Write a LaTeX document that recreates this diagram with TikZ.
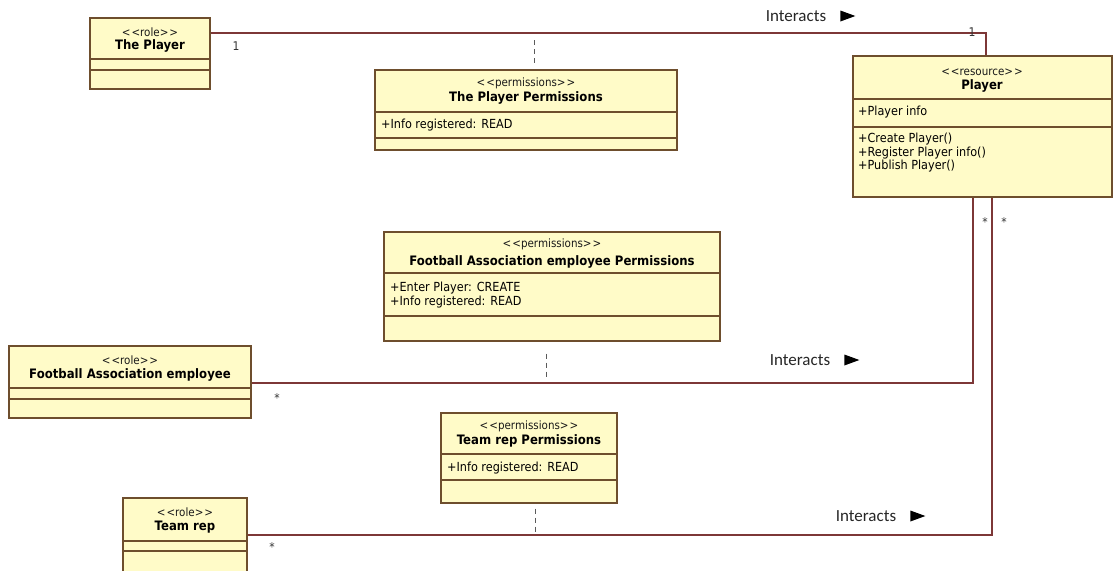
\documentclass[tikz,border=0pt]{standalone}
\usepackage{fontspec}
\setmainfont{DejaVu Sans}[FakeStretch=0.9]
\newfontfamily\lblfont{Carlito}
\usetikzlibrary{fit}

\definecolor{boxfill}{RGB}{255,251,200}
\definecolor{boxline}{RGB}{110,78,45}
\definecolor{assoccol}{RGB}{125,55,55}
\definecolor{dashcol}{RGB}{90,90,90}

\newcommand\stype[1]{<\kern1pt<#1>\kern1pt>}

\begin{document}
\begin{tikzpicture}[x=1pt,y=-1pt,
  classbox/.style={draw=boxline, fill=boxfill, line width=1.2pt, inner sep=0pt, rectangle},
  compart/.style={draw=boxline, line width=1.2pt},
  stereo/.style={font=\fontsize{11.5}{13}\selectfont, inner sep=0pt, text=black!90},
  cname/.style={font=\fontsize{13}{15}\selectfont\bfseries, inner sep=0pt},
  member/.style={font=\fontsize{12.5}{13.5}\selectfont, inner sep=0pt, anchor=west, align=left},
  assoc/.style={draw=assoccol, line width=1.2pt},
  permlink/.style={draw=dashcol, line width=1pt, dash pattern=on 5pt off 4pt},
  mult/.style={font=\fontsize{12}{14}\selectfont, inner sep=0pt, text=black!80},
  rolelbl/.style={font=\lblfont\fontsize{17}{19}\selectfont, inner sep=0pt, text=black!85},
  navtip/.style={fill=black}]

\useasboundingbox (0,0) rectangle (1118,570);

% ---------- classes ----------
% The Player (role)
\node (rp) [classbox, fit={(90,18) (210,89)}] {};
\draw[compart] (rp.west |- 0,59) -- (rp.east |- 0,59);
\draw[compart] (rp.west |- 0,70) -- (rp.east |- 0,70);
\node (rp-s) [stereo] at (150,32) {\stype{role}};
\node (rp-n) [cname] at (150,46) {The Player};

% The Player Permissions
\node (pp) [classbox, fit={(375,70) (677,150)}] {};
\draw[compart] (pp.west |- 0,112) -- (pp.east |- 0,112);
\draw[compart] (pp.west |- 0,138) -- (pp.east |- 0,138);
\node (pp-s) [stereo] at (526,83) {\stype{permissions}};
\node (pp-n) [cname] at (526,98) {The Player Permissions};
\node (pp-a) [member] at (381,125) {+Info registered: READ};

% Player (resource)
\node (res) [classbox, fit={(853,56) (1112,197)}] {};
\draw[compart] (res.west |- 0,99) -- (res.east |- 0,99);
\draw[compart] (res.west |- 0,127) -- (res.east |- 0,127);
\node (res-s) [stereo] at (982,72) {\stype{resource}};
\node (res-n) [cname] at (982,86) {Player};
\node (res-a) [member] at (858,112) {+Player info};
\node (res-o) [member] at (858,153) {+Create Player()\\+Register Player info()\\+Publish Player()};

% Football Association employee Permissions
\node (pfa) [classbox, fit={(384,232) (720,341)}] {};
\draw[compart] (pfa.west |- 0,273) -- (pfa.east |- 0,273);
\draw[compart] (pfa.west |- 0,316) -- (pfa.east |- 0,316);
\node (pfa-s) [stereo] at (552,244) {\stype{permissions}};
\node (pfa-n) [cname] at (552,262) {Football Association employee Permissions};
\node (pfa-a) [member] at (390,295) {+Enter Player: CREATE\\+Info registered: READ};

% Football Association employee (role)
\node (rfa) [classbox, fit={(9,346) (251,418)}] {};
\draw[compart] (rfa.west |- 0,388) -- (rfa.east |- 0,388);
\draw[compart] (rfa.west |- 0,399) -- (rfa.east |- 0,399);
\node (rfa-s) [stereo] at (130,360) {\stype{role}};
\node (rfa-n) [cname] at (130,375) {Football Association employee};

% Team rep Permissions
\node (ptm) [classbox, fit={(441,413) (617,503)}] {};
\draw[compart] (ptm.west |- 0,454) -- (ptm.east |- 0,454);
\draw[compart] (ptm.west |- 0,480) -- (ptm.east |- 0,480);
\node (ptm-s) [stereo] at (529,426) {\stype{permissions}};
\node (ptm-n) [cname] at (529,441) {Team rep Permissions};
\node (ptm-a) [member] at (447,468) {+Info registered: READ};

% Team rep (role)
\node (rtm) [classbox, fit={(123,498) (247,574)}] {};
\draw[compart] (rtm.west |- 0,541) -- (rtm.east |- 0,541);
\draw[compart] (rtm.west |- 0,551) -- (rtm.east |- 0,551);
\node (rtm-s) [stereo] at (185,512) {\stype{role}};
\node (rtm-n) [cname] at (185,527) {Team rep};

% ---------- associations ----------
\coordinate (bendA) at (986,33);
\coordinate (bendB) at (973,383);
\coordinate (bendC) at (992,535);

\draw[assoc] (rp.east |- bendA) -| (res.north -| bendA);
\draw[assoc] (res.south -| bendB) |- (rfa.east |- bendB);
\draw[assoc] (res.south -| bendC) |- (rtm.east |- bendC);

% multiplicities
\node (mA1) [mult] at (236,46) {1};
\node (mA2) [mult] at (972,32) {1};
\node (mB1) [mult] at (985,222) {*};
\node (mB2) [mult] at (277,398) {*};
\node (mC1) [mult] at (1004,222) {*};
\node (mC2) [mult] at (272,547) {*};

% association names with reading direction
\node (iaA) [rolelbl] at (796,16) {Interacts};
\node (iaB) [rolelbl] at (800,360) {Interacts};
\node (iaC) [rolelbl] at (866,516) {Interacts};
\foreach \lbl in {iaA,iaB,iaC}{
  \fill[navtip] ([xshift=14pt]\lbl.east) ++(0,-5.5) -- ++(15,5.5) -- ++(-15,5.5) -- cycle;
}

% ---------- permission links ----------
\coordinate (linkA) at (534,40);
\coordinate (linkB) at (546,377);
\coordinate (linkC) at (535,532);
\draw[permlink, shorten >=3pt] (linkA) -- (pp.north -| linkA);
\draw[permlink, shorten <=12pt] (pfa.south -| linkB) -- (linkB);
\draw[permlink, shorten <=5pt] (ptm.south -| linkC) -- (linkC);

\end{tikzpicture}
\end{document}
